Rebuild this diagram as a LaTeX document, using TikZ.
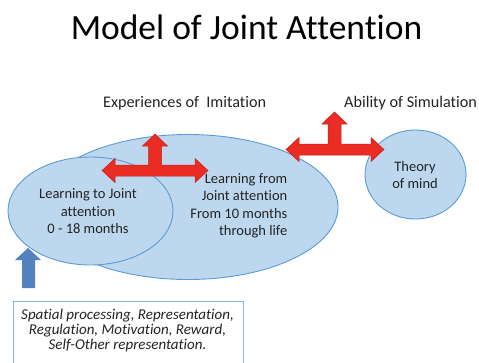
\documentclass[tikz,border=0pt]{standalone}
\usepackage{fontspec}
\setmainfont{Carlito}[Ligatures={NoCommon,NoContextual}]
\begin{document}
\definecolor{bubblefill}{RGB}{189,215,238}
\definecolor{bubbleline}{RGB}{91,155,213}
\definecolor{arrowred}{RGB}{234,44,36}
\definecolor{arrowredline}{RGB}{196,32,28}
\definecolor{arrowblue}{RGB}{82,130,190}
\definecolor{boxline}{RGB}{140,182,226}
\definecolor{inktext}{RGB}{35,35,35}
% three-headed arrow: #1 left tip x, #2 right tip x, #3 shaft centre y,
% #4 upward shaft centre x, #5 upward tip y
\newcommand\triarrow[5]{%
  \draw[redarrow]
    (#1,#3) -- ({#1+13},{#3-12}) -- ({#1+13},{#3-5.5})
    -- ({#4-6.5},{#3-5.5}) -- ({#4-6.5},{#5+12}) -- ({#4-12.5},{#5+12})
    -- (#4,#5) -- ({#4+12.5},{#5+12}) -- ({#4+6.5},{#5+12})
    -- ({#4+6.5},{#3-5.5}) -- ({#2-13},{#3-5.5}) -- ({#2-13},{#3-12})
    -- (#2,#3) -- ({#2-13},{#3+12}) -- ({#2-13},{#3+5.5})
    -- ({#1+13},{#3+5.5}) -- ({#1+13},{#3+12}) -- cycle;}
\begin{tikzpicture}[x=1pt,y=-1pt,
  bubble/.style={fill=bubblefill,draw=bubbleline,line width=0.9pt},
  redarrow/.style={fill=arrowred,draw=arrowredline,line width=0.5pt,line join=miter},
  bodytext/.style={font=\fontsize{14.5}{17.5}\selectfont,text=inktext,inner sep=0pt},
  labeltext/.style={font=\fontsize{16.2}{19}\selectfont,text=inktext,inner sep=0pt},
  notetext/.style={font=\fontsize{15}{14.8}\selectfont\itshape,text=inktext,inner sep=0pt,align=center}]
\useasboundingbox (0,0) rectangle (479,362);
\clip (0,0) rectangle (479,362);

% title
\node[font=\fontsize{35.5}{40}\selectfont,inner sep=0pt] (title) at (246.5,27) {Model of Joint Attention};

% stages of joint attention
\path[bubble] (188,207) ellipse [x radius=150pt, y radius=72.5pt];
\path[bubble] (90.5,211) ellipse [x radius=82.5pt, y radius=54pt];
\path[bubble] (415.5,174.5) ellipse [x radius=50.5pt, y radius=44.5pt];

\node[bodytext,align=center] (early) at (88,211.5) {Learning to Joint\\attention\\0 - 18 months};
\node[bodytext,align=right,anchor=east] (later) at (287.5,206) {Learning from\\Joint attention\\From 10 months\\through life};
\node[bodytext,align=center] (tom) at (415,175) {Theory\\of mind};

% labels above the arrows
\node[labeltext,anchor=west] (imit) at (103,103.5) {Experiences of\ \ Imitation};
\node[labeltext,anchor=west] (simu) at (344,103.5) {Ability of Simulation};

% red three-way arrows
\triarrow{102}{208}{170.5}{155}{134}
\triarrow{286}{384}{149.5}{334.5}{112}

% blue arrow from the underlying processes
\fill[arrowblue] (28,248) -- (41,260) -- (35,260) -- (35,288) -- (22,288) -- (22,260) -- (15,260) -- cycle;

% underlying processes
\draw[boxline,line width=0.8pt] (13,301) rectangle (243,380);
\node[notetext] (procs) at (127.5,330.5) {Spatial processing, Representation,\\Regulation, Motivation, Reward,\\Self-Other representation.};
\end{tikzpicture}
\end{document}
